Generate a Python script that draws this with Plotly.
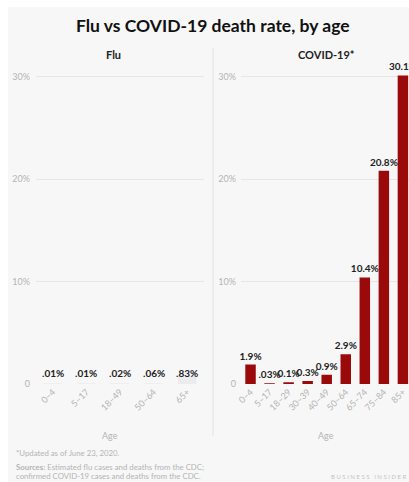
import plotly.graph_objects as go

W, H = 409, 482

flu_ages = ["0–4", "5–17", "18–49", "50–64", "65+"]
flu_rates = [0.01, 0.01, 0.02, 0.06, 0.83]
flu_labels = [".01%", ".01%", ".02%", ".06%", ".83%"]

covid_ages = ["0–4", "5–17", "18–29", "30–39", "40–49", "50–64", "65–74", "75–84", "85+"]
covid_rates = [1.9, 0.03, 0.1, 0.3, 0.9, 2.9, 10.4, 20.8, 30.1]
covid_labels = ["1.9%", ".03%", "0.1%", "0.3%", "0.9%", "2.9%", "10.4%", "20.8%", "30.1%"]

y_ticks = [0, 10, 20, 30]
y_tick_text = ["0", "10%", "20%", "30%"]

FONT = "Lato"
BAR = "#9b0a0a"
GRAY = "#b4b4b4"


def px(x):
    return x / W


def py(y):
    return (H - y) / H


fig = go.Figure()

fig.add_trace(go.Bar(
    x=flu_ages, y=flu_rates, xaxis="x", yaxis="y",
    marker=dict(color="#ececec", line=dict(width=0)),
    hoverinfo="skip", showlegend=False,
))

fig.add_trace(go.Bar(
    x=covid_ages, y=covid_rates, xaxis="x2", yaxis="y2",
    marker=dict(color=BAR, line=dict(width=0)),
    text=covid_labels, textposition="outside", constraintext="none",
    cliponaxis=False,
    textfont=dict(family=FONT, size=10, color="#222222", weight="bold"),
    hoverinfo="skip", showlegend=False,
))

ydom = [py(384), py(384 - 31 * 10.25)]

yaxis_common = dict(
    range=[0, 31], domain=ydom, tickvals=y_ticks, ticktext=y_tick_text,
    showgrid=True, gridcolor="#e6e6e6", gridwidth=1, zeroline=False,
    showline=False, ticks="", automargin=False,
    tickfont=dict(family=FONT, size=9, color=GRAY),
)
xaxis_common = dict(
    type="category", tickangle=-45, showgrid=False, zeroline=False,
    showline=False, ticks="", automargin=False,
    tickfont=dict(family=FONT, size=9, color=GRAY),
)

fig.update_layout(
    width=W, height=H,
    margin=dict(l=0, r=0, t=0, b=0),
    paper_bgcolor="white", plot_bgcolor="rgba(0,0,0,0)",
    bargap=0.45,
    font=dict(family=FONT),
    xaxis=dict(domain=[px(36), px(204)], anchor="y", range=[-0.5, 4.5], **xaxis_common),
    yaxis=dict(anchor="x", ticklabelstandoff=5, **yaxis_common),
    xaxis2=dict(domain=[px(241), 1.0], anchor="y2", range=[-0.5, 8.32], **xaxis_common),
    yaxis2=dict(anchor="x2", ticklabelstandoff=4, **yaxis_common),
)

shapes = [
    dict(type="rect", xref="paper", yref="paper", x0=px(8), x1=1, y0=0, y1=py(7),
         fillcolor="#f7f7f7", line=dict(width=0), layer="below"),
    dict(type="line", xref="paper", yref="paper", x0=px(213), x1=px(213),
         y0=py(48), y1=py(436), line=dict(color="#e2e2e2", width=1)),
]
fig.update_layout(shapes=shapes)

ann = []
for a, lab in zip(flu_ages, flu_labels):
    ann.append(dict(x=a, y=0, xref="x", yref="y", text=lab, showarrow=False,
                    yanchor="bottom", yshift=3,
                    font=dict(family=FONT, size=10, color="#222222", weight="bold")))

ann += [
    dict(x=px(213), y=py(25), xref="paper", yref="paper",
         text="<b>Flu vs COVID-19 death rate, by age</b>", showarrow=False,
         xanchor="center", yanchor="middle", font=dict(family=FONT, size=17.5, color="#111111")),
    dict(x=px(113), y=py(54), xref="paper", yref="paper", text="<b>Flu</b>", showarrow=False,
         xanchor="center", yanchor="middle", font=dict(family=FONT, size=11, color="#222222")),
    dict(x=px(326), y=py(54), xref="paper", yref="paper", text="<b>COVID-19*</b>", showarrow=False,
         xanchor="center", yanchor="middle", font=dict(family=FONT, size=11, color="#222222")),
    dict(x=px(110), y=py(435), xref="paper", yref="paper", text="Age", showarrow=False,
         xanchor="center", yanchor="middle", font=dict(family=FONT, size=9, color=GRAY)),
    dict(x=px(326), y=py(435), xref="paper", yref="paper", text="Age", showarrow=False,
         xanchor="center", yanchor="middle", font=dict(family=FONT, size=9, color=GRAY)),
    dict(x=px(14), y=py(453), xref="paper", yref="paper", text="*Updated as of June 23, 2020.",
         showarrow=False, xanchor="left", yanchor="middle",
         font=dict(family=FONT, size=7.8, color=GRAY)),
    dict(x=px(14), y=py(467), xref="paper", yref="paper",
         text="<b>Sources:</b> Estimated flu cases and deaths from the CDC;",
         showarrow=False, xanchor="left", yanchor="middle",
         font=dict(family=FONT, size=7.8, color=GRAY)),
    dict(x=px(14), y=py(476), xref="paper", yref="paper",
         text="confirmed COVID-19 cases and deaths from the CDC.",
         showarrow=False, xanchor="left", yanchor="middle",
         font=dict(family=FONT, size=7.8, color=GRAY)),
    dict(x=1.0, y=py(476), xref="paper", yref="paper", text="B U S I N E S S   I N S I D E R",
         showarrow=False, xanchor="right", yanchor="middle",
         font=dict(family=FONT, size=6, color="#c4c4c4")),
]
fig.update_layout(annotations=ann)

fig.write_html(
    "out.html",
    config={"displayModeBar": False},
    post_script=(
        "document.body.style.margin='0';"
        "document.documentElement.style.overflow='hidden';"
        "document.body.style.overflow='hidden';"
    ),
)
